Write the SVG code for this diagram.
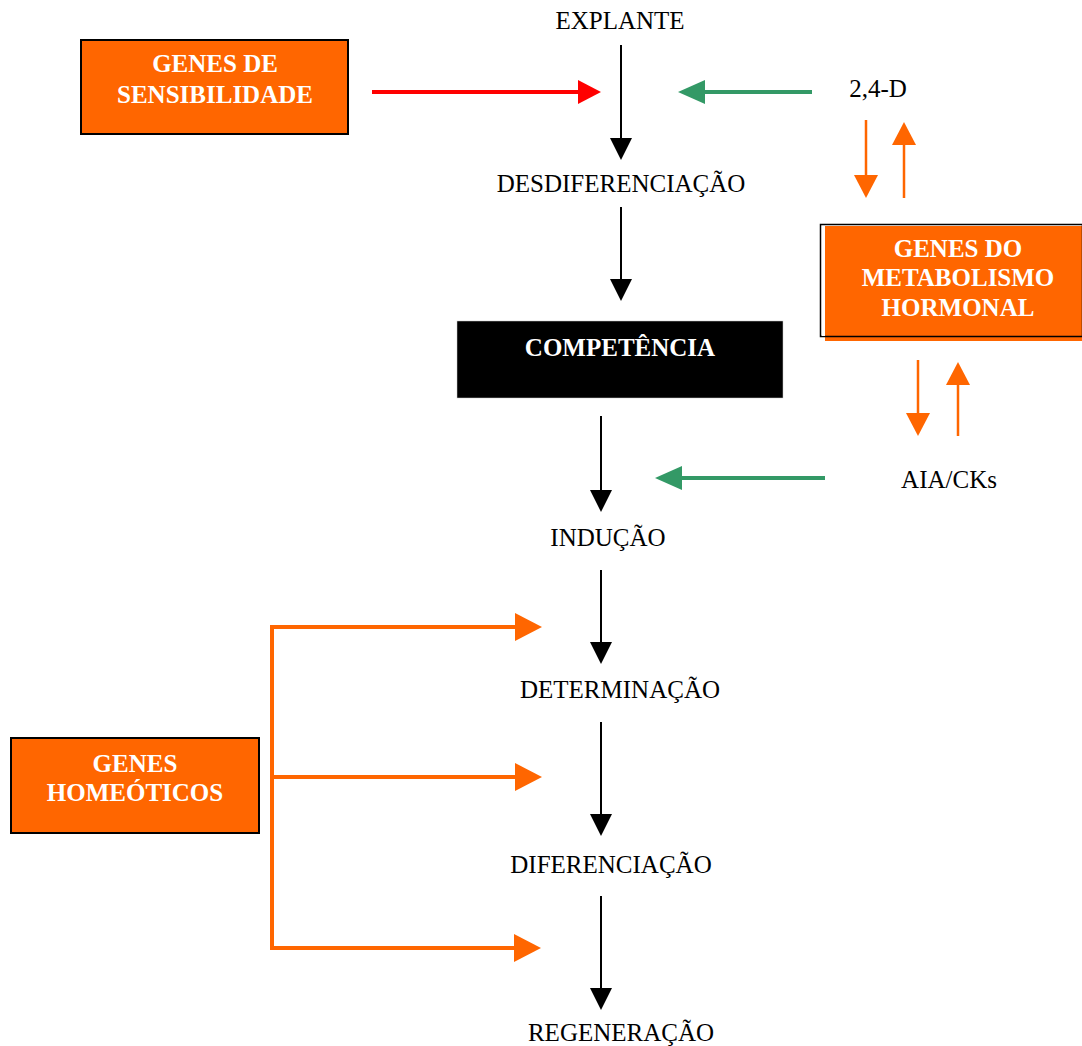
<svg xmlns="http://www.w3.org/2000/svg" width="1082" height="1046" viewBox="0 0 1082 1046">
<defs>
<style>
.t{font-family:"Liberation Serif","Times New Roman",serif;font-size:25px;fill:#000;text-anchor:middle}
.b{font-family:"Liberation Serif","Times New Roman",serif;font-size:25px;font-weight:bold;fill:#fff;text-anchor:middle}
.box{fill:#FF6600;stroke:#000;stroke-width:2}
.blk{stroke:#000;stroke-width:2;fill:none}
.org{stroke:#FF6600;stroke-width:2.5;fill:none}
.orgw{stroke:#FF6600;stroke-width:4;fill:none}
.grn{stroke:#339966;stroke-width:4;fill:none}
.red{stroke:#FF0000;stroke-width:4;fill:none}
</style>
</defs>
<rect width="1082" height="1046" fill="#fff"/>
<g id="connectors">
<line class="blk" x1="621" y1="45" x2="621" y2="140"/><polygon points="610,138 632,138 621,160" fill="#000"/>
<line class="blk" x1="621" y1="207" x2="621" y2="281"/><polygon points="610,279 632,279 621,301" fill="#000"/>
<line class="blk" x1="601" y1="416" x2="601" y2="492"/><polygon points="590,490 612,490 601,512" fill="#000"/>
<line class="blk" x1="601" y1="570" x2="601" y2="644"/><polygon points="590,642 612,642 601,664" fill="#000"/>
<line class="blk" x1="601" y1="722" x2="601" y2="816"/><polygon points="590,814 612,814 601,836" fill="#000"/>
<line class="blk" x1="601" y1="896" x2="601" y2="990"/><polygon points="590,988 612,988 601,1010" fill="#000"/>
<line class="red" x1="372" y1="92" x2="580" y2="92"/><polygon points="578,80 578,104 601,92" fill="#FF0000"/>
<line class="grn" x1="812" y1="92" x2="702" y2="92"/><polygon points="705,80 705,104 678,92" fill="#339966"/>
<line class="grn" x1="825" y1="478" x2="679" y2="478"/><polygon points="682,466 682,490 655,478" fill="#339966"/>
<line class="org" x1="866" y1="120" x2="866" y2="178"/><polygon points="854,175 878,175 866,198" fill="#FF6600"/>
<line class="org" x1="904" y1="198" x2="904" y2="142"/><polygon points="892,145 916,145 904,122" fill="#FF6600"/>
<line class="org" x1="918" y1="360" x2="918" y2="416"/><polygon points="906,413 930,413 918,436" fill="#FF6600"/>
<line class="org" x1="958" y1="436" x2="958" y2="382"/><polygon points="946,385 970,385 958,362" fill="#FF6600"/>
<polyline class="orgw" points="517,627 272,627 272,948 517,948"/>
<line class="orgw" x1="272" y1="777" x2="517" y2="777"/>
<polygon points="515,613 515,641 542,627" fill="#FF6600"/>
<polygon points="515,763 515,791 542,777" fill="#FF6600"/>
<polygon points="514,934 514,962 541,948" fill="#FF6600"/>
</g>
<g id="explante"><text class="t" x="620" y="29">EXPLANTE</text></g>
<g id="desdiferenciacao"><text class="t" x="621" y="192">DESDIFERENCIAÇÃO</text></g>
<g id="competencia"><rect x="457" y="321" width="326" height="77" fill="#000" stroke="#ccc" stroke-width="0.5"/><text class="b" x="620" y="356">COMPETÊNCIA</text></g>
<g id="inducao"><text class="t" x="608" y="546">INDUÇÃO</text></g>
<g id="determinacao"><text class="t" x="620" y="698">DETERMINAÇÃO</text></g>
<g id="diferenciacao"><text class="t" x="611" y="873">DIFERENCIAÇÃO</text></g>
<g id="regeneracao"><text class="t" x="621" y="1041">REGENERAÇÃO</text></g>
<g id="d24"><text class="t" x="878" y="97">2,4-D</text></g>
<g id="aiacks"><text class="t" x="949" y="488">AIA/CKs</text></g>
<g id="genes-sensibilidade"><rect class="box" x="81" y="40" width="267" height="94"/><text class="b" x="215" y="72">GENES DE</text><text class="b" x="215" y="103">SENSIBILIDADE</text></g>
<g id="genes-metabolismo"><rect x="825" y="226" width="257" height="115" fill="#FF6600"/><rect x="820.5" y="224.5" width="262" height="112" fill="none" stroke="#000" stroke-width="1.5"/><rect x="822" y="226" width="3" height="110" fill="#fff"/><text class="b" x="958" y="257">GENES DO</text><text class="b" x="958" y="286">METABOLISMO</text><text class="b" x="958" y="316">HORMONAL</text></g>
<g id="genes-homeoticos"><rect class="box" x="11" y="738" width="248" height="95"/><text class="b" x="135" y="772">GENES</text><text class="b" x="135" y="801">HOMEÓTICOS</text></g>
</svg>
